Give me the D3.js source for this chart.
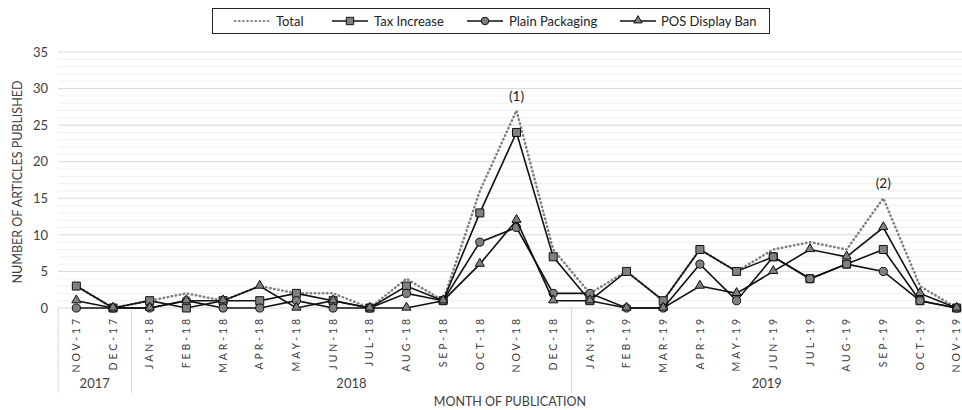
<!DOCTYPE html>
<html><head><meta charset="utf-8">
<script src="https://cdn.jsdelivr.net/npm/d3@7"></script>
<style>
body{margin:0;background:#fff;}
svg{display:block;font-family:Lato,"Open Sans",sans-serif;}
</style></head>
<body><svg id="c" width="962" height="410"></svg>
<script>
const months = ["NOV-17","DEC-17","JAN-18","FEB-18","MAR-18","APR-18","MAY-18","JUN-18","JUL-18","AUG-18","SEP-18","OCT-18","NOV-18","DEC-18","JAN-19","FEB-19","MAR-19","APR-19","MAY-19","JUN-19","JUL-19","AUG-19","SEP-19","OCT-19","NOV-19"];
const years = [{year:"2017",from:"NOV-17",to:"DEC-17"},{year:"2018",from:"JAN-18",to:"DEC-18"},{year:"2019",from:"JAN-19",to:"NOV-19"}];
const total          = [3,0,1,2,1,3,2,2,0,4,1,16,27,8,2,5,1,8,5,8,9,8,15,3,0];
const taxIncrease    = [3,0,1,0,1,1,2,1,0,3,1,13,24,7,1,5,1,8,5,7,4,6,8,1,0];
const plainPackaging = [0,0,0,1,0,0,1,0,0,2,1,9,11,2,2,0,0,6,1,7,4,6,5,1,0];
const posDisplayBan  = [1,0,0,1,1,3,0,1,0,0,1,6,12,1,1,0,0,3,2,5,8,7,11,2,0];
const yTicks = [0,5,10,15,20,25,30,35];
const annotations = [{month:"NOV-18",value:27,label:"(1)"},{month:"SEP-19",value:15,label:"(2)"}];

(function(){
const W = 962, H = 410;
const pl = 58, pr = 975, pt = 52, pb = 308;
const svg = d3.select("#c");
const x = d3.scaleBand().domain(months).range([pl, pr]).paddingInner(0).paddingOuter(0);
const cx = m => x(m) + x.bandwidth()/2;
const y = d3.scaleLinear().domain([0,35]).range([pb, pt]);

const g = svg.append("g");
g.selectAll("line.minor").data(d3.range(0,36,1).filter(v=>v%5!==0)).join("line")
  .attr("x1",pl).attr("x2",W).attr("y1",d=>y(d)).attr("y2",d=>y(d))
  .attr("stroke","#efefef").attr("stroke-width",1);
g.selectAll("line.major").data(yTicks).join("line")
  .attr("x1",pl).attr("x2",W).attr("y1",d=>y(d)).attr("y2",d=>y(d))
  .attr("stroke","#d9d9d9").attr("stroke-width",1);

const yAxis = d3.axisLeft(y).tickValues(yTicks).tickSize(0).tickPadding(10);
const ya = svg.append("g").attr("transform",`translate(${pl},0)`).call(yAxis);
ya.select(".domain").remove();
ya.selectAll("text").attr("font-size",13).attr("fill","#404040").attr("font-family","Lato,sans-serif");

svg.append("text").attr("transform",`translate(22,${(pt+pb)/2+2}) rotate(-90)`)
  .attr("text-anchor","middle").attr("font-size",12.5).attr("fill","#404040").text("NUMBER OF ARTICLES PUBLISHED");

const xAxis = d3.axisBottom(x).tickSize(0).tickPadding(0);
const xa = svg.append("g").attr("transform",`translate(0,${pb})`).call(xAxis);
xa.select(".domain").remove();
xa.selectAll("text")
  .attr("transform","rotate(-90)")
  .attr("x",-8).attr("y",0).attr("dy","0.35em")
  .attr("text-anchor","end").attr("font-size",10.5).attr("letter-spacing","2.9px")
  .attr("fill","#404040").attr("font-family","Lato,sans-serif");

const sepX = [pl, x("JAN-18"), x("JAN-19")];
svg.selectAll("line.sep").data(sepX).join("line")
  .attr("x1",d=>d).attr("x2",d=>d).attr("y1",pb).attr("y2",393)
  .attr("stroke","#d9d9d9").attr("stroke-width",1);
svg.selectAll("text.year").data(years).join("text")
  .attr("x",d=>(x(d.from)+Math.min(W, x(d.to)+x.bandwidth()))/2).attr("y",388)
  .attr("text-anchor","middle").attr("font-size",13).attr("fill","#404040").text(d=>d.year);
svg.append("text").attr("x",(pl+W)/2).attr("y",406).attr("text-anchor","middle")
  .attr("font-size",12.5).attr("fill","#404040").text("MONTH OF PUBLICATION");

const line = d3.line().x((d,i)=>cx(months[i])).y(d=>y(d));
svg.append("path").datum(total).attr("d",line).attr("fill","none")
  .attr("stroke","#808080").attr("stroke-width",2.5).attr("stroke-dasharray","0.5,3.6").attr("stroke-linecap","round");

const markerFill = "#808080";
const symSize = s => s===d3.symbolTriangle ? 36 : (s===d3.symbolSquare ? 64 : 52);
function series(data, shape){
  svg.append("path").datum(data).attr("d",line).attr("fill","none").attr("stroke","#111").attr("stroke-width",1.6);
  const sym = d3.symbol().type(shape).size(symSize(shape));
  svg.append("g").selectAll("path").data(data).join("path")
    .attr("transform",(d,i)=>`translate(${cx(months[i])},${y(d)+(shape===d3.symbolTriangle?-0.5:0)})`)
    .attr("d",sym).attr("fill",markerFill).attr("stroke","#111").attr("stroke-width",1);
}
series(taxIncrease, d3.symbolSquare);
series(plainPackaging, d3.symbolCircle);
series(posDisplayBan, d3.symbolTriangle);

svg.selectAll("text.ann").data(annotations).join("text")
  .attr("x",d=>cx(d.month)).attr("y",d=>y(d.value)-10)
  .attr("text-anchor","middle").attr("font-size",13.5).attr("fill","#222").text(d=>d.label);

const lg = svg.append("g");
lg.append("rect").attr("x",212.5).attr("y",8.5).attr("width",557).attr("height",25)
  .attr("fill","#fff").attr("stroke","#222").attr("stroke-width",1);
const legendItems = [
  {name:"Total", x0:235, x1:271, tx:276, shape:null},
  {name:"Tax Increase", x0:332, x1:368, tx:374, shape:d3.symbolSquare},
  {name:"Plain Packaging", x0:467, x1:503, tx:509, shape:d3.symbolCircle},
  {name:"POS Display Ban", x0:620, x1:656, tx:661, shape:d3.symbolTriangle}
];
const ly = 21;
legendItems.forEach(it=>{
  if(!it.shape){
    lg.append("line").attr("x1",it.x0).attr("x2",it.x1).attr("y1",ly).attr("y2",ly)
      .attr("stroke","#808080").attr("stroke-width",2.2).attr("stroke-dasharray","0.5,3.6").attr("stroke-linecap","round");
  } else {
    lg.append("line").attr("x1",it.x0).attr("x2",it.x1).attr("y1",ly).attr("y2",ly).attr("stroke","#111").attr("stroke-width",1.6);
    lg.append("path").attr("transform",`translate(${(it.x0+it.x1)/2},${ly+(it.shape===d3.symbolTriangle?-0.5:0)})`)
      .attr("d",d3.symbol().type(it.shape).size(symSize(it.shape)*0.85)).attr("fill",markerFill).attr("stroke","#111").attr("stroke-width",1);
  }
  lg.append("text").attr("x",it.tx).attr("y",ly).attr("dy","0.35em").attr("font-size",13).attr("fill","#222").text(it.name);
});
})();
</script></body></html>
